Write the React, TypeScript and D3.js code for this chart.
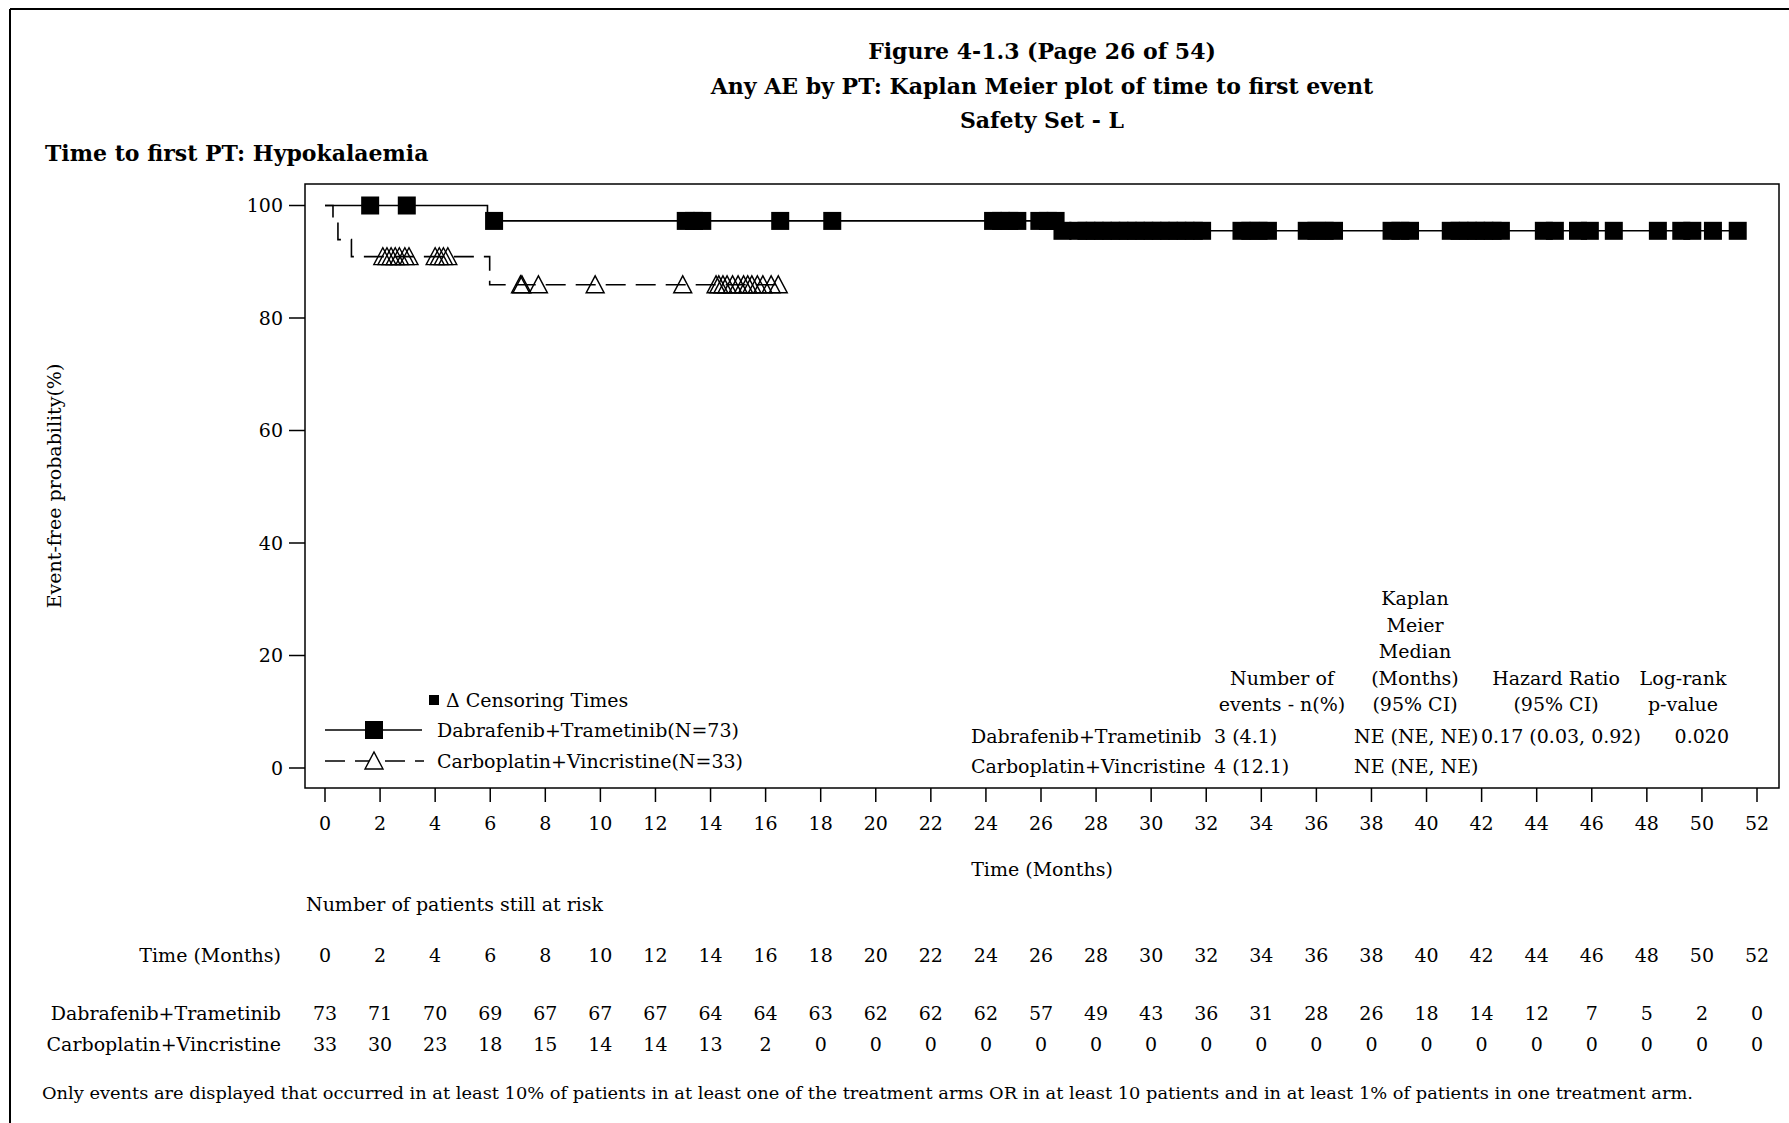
import React from 'react';
import * as d3 from 'd3';

const titleLines = [
  'Figure 4-1.3 (Page 26 of 54)',
  'Any AE by PT: Kaplan Meier plot of time to first event',
  'Safety Set - L',
];
const subtitle = 'Time to first PT: Hypokalaemia';
const yLabel = 'Event-free probability(%)';
const xLabel = 'Time (Months)';

const xTicks = [0, 2, 4, 6, 8, 10, 12, 14, 16, 18, 20, 22, 24, 26, 28, 30, 32, 34, 36, 38, 40, 42, 44, 46, 48, 50, 52];
const yTicks = [0, 20, 40, 60, 80, 100];

// Dabrafenib+Trametinib: step curve (time, survival %) and censoring times
const dtStepTimes = [0, 5.9, 26.7];
const dtStepSurv = [100, 97.26, 95.5];
const dtEnd = 51.3;
const dtCensor = [
  1.64, 2.97,
  6.14, 13.1, 13.4, 13.7, 16.53, 18.42, 24.26, 24.55, 24.85, 25.14, 25.94, 26.25, 26.53,
  26.78, 27.35, 27.65, 27.95, 28.25, 28.55, 28.85, 29.15, 29.45, 29.75, 30.05, 30.35, 30.65, 30.95, 31.25, 31.55, 31.85,
  33.28, 33.6, 33.9, 34.24, 35.65, 36.0, 36.3, 36.64, 38.73, 39.05, 39.4,
  40.88, 41.2, 41.5, 41.8, 42.1, 42.4, 42.7, 44.26, 44.66, 45.5, 45.93, 46.8,
  48.4, 49.25, 49.65, 50.4, 51.3,
];

// Carboplatin+Vincristine
const cvStepTimes = [0, 0.29, 0.47, 0.96, 5.98];
const cvStepSurv = [100, 96.97, 93.94, 90.91, 85.9];
const cvEnd = 16.5;
const cvCensor = [
  2.1, 2.25, 2.4, 2.55, 2.7, 2.9, 3.05,
  4.0, 4.15, 4.3, 4.46,
  7.1, 7.15, 7.75, 9.81, 12.99,
  14.2, 14.3, 14.45, 14.6, 14.8, 15.0, 15.2, 15.35, 15.5, 15.7, 15.9, 16.2, 16.46,
];

const dtName = 'Dabrafenib+Trametinib';
const cvName = 'Carboplatin+Vincristine';
const dtLegend = 'Dabrafenib+Trametinib(N=73)';
const cvLegend = 'Carboplatin+Vincristine(N=33)';

const statHeaders = [
  ['Number of', 'events - n(%)'],
  ['Kaplan', 'Meier', 'Median', '(Months)', '(95% CI)'],
  ['Hazard Ratio', '(95% CI)'],
  ['Log-rank', 'p-value'],
];
const dtStats = ['3 (4.1)', 'NE (NE, NE)', '0.17 (0.03, 0.92)', '0.020'];
const cvStats = ['4 (12.1)', 'NE (NE, NE)', '', ''];

const riskTimes = [0, 2, 4, 6, 8, 10, 12, 14, 16, 18, 20, 22, 24, 26, 28, 30, 32, 34, 36, 38, 40, 42, 44, 46, 48, 50, 52];
const riskDT = [73, 71, 70, 69, 67, 67, 67, 64, 64, 63, 62, 62, 62, 57, 49, 43, 36, 31, 28, 26, 18, 14, 12, 7, 5, 2, 0];
const riskCV = [33, 30, 23, 18, 15, 14, 14, 13, 2, 0, 0, 0, 0, 0, 0, 0, 0, 0, 0, 0, 0, 0, 0, 0, 0, 0, 0];

const footnote =
  'Only events are displayed that occurred in at least 10% of patients in at least one of the treatment arms OR in at least 10 patients and in at least 1% of patients in one treatment arm.';

const W = 1789;
const H = 1123;
const FONT = '"DejaVu Serif", "Liberation Serif", serif';
const FS = 19;

const plot = { left: 305, right: 1779, top: 184, bottom: 788 };
const x = d3.scaleLinear().domain([0, 52]).range([325, 1757]);
const y = d3.scaleLinear().domain([0, 100]).range([768, 205.5]);

function survAt(times: number[], surv: number[], t: number) {
  let s = surv[0];
  for (let i = 0; i < times.length; i++) if (times[i] <= t) s = surv[i];
  return s;
}

const stepLine = d3
  .line<[number, number]>()
  .x((d) => x(d[0]))
  .y((d) => y(d[1]))
  .curve(d3.curveStepAfter);

function curvePath(times: number[], surv: number[], end: number) {
  const pts: [number, number][] = times.map((t, i) => [t, surv[i]]);
  pts.push([end, surv[surv.length - 1]]);
  return stepLine(pts) || '';
}

const SQ = 18;
function tri(cx: number, cy: number, s = 18) {
  const h = s / 2;
  return `M${cx - h},${cy + h - 1}L${cx},${cy - h}L${cx + h},${cy + h - 1}Z`;
}

export default function App() {
  const dtPath = curvePath(dtStepTimes, dtStepSurv, dtEnd);
  const cvPath = curvePath(cvStepTimes, cvStepSurv, cvEnd);
  const statCols = [1282, 1415, 1556, 1683];
  const statValX = [1214, 1354, 1481, 1729];
  const statValAnchor = ['start', 'start', 'start', 'end'];
  const hdrBottom = 711;
  const lineH = 26.5;

  return (
    <div style={{ position: 'absolute', left: 0, top: 0 }}>
      <svg width={W} height={H} style={{ display: 'block', background: '#fff' }} fontFamily={FONT}>
        <rect x={0} y={0} width={W} height={H} fill="#fff" />
        {/* outer border (top & left visible) */}
        <line x1={10} y1={9} x2={W} y2={9} stroke="#000" strokeWidth={2} />
        <line x1={10} y1={9} x2={10} y2={H} stroke="#000" strokeWidth={2} />

        {titleLines.map((t, i) => (
          <text key={i} x={1042} y={59 + i * 34.5} textAnchor="middle" fontWeight="bold" fontSize={22}>
            {t}
          </text>
        ))}
        <text x={45} y={161} fontWeight="bold" fontSize={22}>
          {subtitle}
        </text>

        {/* frame */}
        <rect
          x={plot.left}
          y={plot.top}
          width={plot.right - plot.left}
          height={plot.bottom - plot.top}
          fill="none"
          stroke="#000"
          strokeWidth={1.5}
        />

        {/* y axis */}
        {yTicks.map((v) => (
          <g key={v}>
            <line x1={289} x2={plot.left} y1={y(v)} y2={y(v)} stroke="#000" strokeWidth={1.5} />
            <text x={283} y={y(v) + 6.5} textAnchor="end" fontSize={FS}>
              {v}
            </text>
          </g>
        ))}
        <text
          transform={`translate(61,${(plot.top + plot.bottom) / 2}) rotate(-90)`}
          textAnchor="middle"
          fontSize={FS}
        >
          {yLabel}
        </text>

        {/* x axis */}
        {xTicks.map((v) => (
          <g key={v}>
            <line x1={x(v)} x2={x(v)} y1={plot.bottom} y2={plot.bottom + 14} stroke="#000" strokeWidth={1.5} />
            <text x={x(v)} y={830} textAnchor="middle" fontSize={FS}>
              {v}
            </text>
          </g>
        ))}
        <text x={(plot.left + plot.right) / 2} y={876} textAnchor="middle" fontSize={FS}>
          {xLabel}
        </text>

        {/* curves */}
        <path d={dtPath} fill="none" stroke="#000" strokeWidth={1.6} />
        <path d={cvPath} fill="none" stroke="#000" strokeWidth={1.6} strokeDasharray="20,10" />
        {dtCensor.map((t, i) => {
          const s = survAt(dtStepTimes, dtStepSurv, t);
          return <rect key={i} x={x(t) - SQ / 2} y={y(s) - SQ / 2} width={SQ} height={SQ} fill="#000" />;
        })}
        {cvCensor.map((t, i) => {
          const s = survAt(cvStepTimes, cvStepSurv, t);
          return <path key={i} d={tri(x(t), y(s))} fill="none" stroke="#000" strokeWidth={1.4} />;
        })}

        {/* legend */}
        <rect x={429} y={695} width={10} height={10} fill="#000" />
        <text x={446} y={707} fontSize={FS}>
          {'Δ Censoring Times'}
        </text>
        <line x1={325} x2={422} y1={730} y2={730} stroke="#000" strokeWidth={1.6} />
        <rect x={374 - SQ / 2} y={730 - SQ / 2} width={SQ} height={SQ} fill="#000" />
        <text x={437} y={737} fontSize={FS}>
          {dtLegend}
        </text>
        <line x1={325} x2={424} y1={761} y2={761} stroke="#000" strokeWidth={1.6} strokeDasharray="20,10" />
        <path d={tri(374, 761)} fill="#fff" stroke="#000" strokeWidth={1.4} />
        <text x={437} y={768} fontSize={FS}>
          {cvLegend}
        </text>

        {/* stats table */}
        {statHeaders.map((lines, c) =>
          lines.map((ln, j) => (
            <text
              key={`${c}-${j}`}
              x={statCols[c]}
              y={hdrBottom - (lines.length - 1 - j) * lineH}
              textAnchor="middle"
              fontSize={FS}
            >
              {ln}
            </text>
          ))
        )}
        <text x={971} y={743} fontSize={FS}>
          {dtName}
        </text>
        <text x={971} y={773} fontSize={FS}>
          {cvName}
        </text>
        {dtStats.map((v, i) => (
          <text key={`d${i}`} x={statValX[i]} y={743} textAnchor={statValAnchor[i] as any} fontSize={FS}>
            {v}
          </text>
        ))}
        {cvStats.map((v, i) => (
          <text key={`c${i}`} x={statValX[i]} y={773} textAnchor={statValAnchor[i] as any} fontSize={FS}>
            {v}
          </text>
        ))}

        {/* at-risk table */}
        <text x={306} y={911} fontSize={FS}>
          Number of patients still at risk
        </text>
        <text x={281} y={962} textAnchor="end" fontSize={FS}>
          {xLabel}
        </text>
        <text x={281} y={1020} textAnchor="end" fontSize={FS}>
          {dtName}
        </text>
        <text x={281} y={1051} textAnchor="end" fontSize={FS}>
          {cvName}
        </text>
        {riskTimes.map((t, i) => (
          <g key={t}>
            <text x={x(t)} y={962} textAnchor="middle" fontSize={FS}>
              {t}
            </text>
            <text x={x(t)} y={1020} textAnchor="middle" fontSize={FS}>
              {riskDT[i]}
            </text>
            <text x={x(t)} y={1051} textAnchor="middle" fontSize={FS}>
              {riskCV[i]}
            </text>
          </g>
        ))}

        <text x={42} y={1099} fontSize={16} textLength={1651} lengthAdjust="spacingAndGlyphs">
          {footnote}
        </text>
      </svg>
    </div>
  );
}
